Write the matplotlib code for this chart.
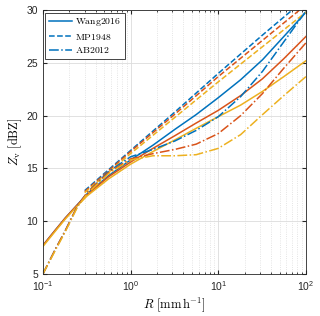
import matplotlib
matplotlib.use('Agg')
import matplotlib.pyplot as plt
from matplotlib.ticker import LogLocator, FixedLocator, FuncFormatter, NullFormatter
import numpy as np

plt.rcParams['mathtext.fontset'] = 'cm'
plt.rcParams['font.family'] = ['Liberation Sans', 'DejaVu Sans']

# rain rate grids [mm/h]
R = [0.1, 0.14, 0.18, 0.25, 0.32, 0.56, 1, 1.8, 3.2, 5.6, 10, 18, 32, 56, 100]
R_mp = [0.3, 1, 3.16, 10, 31.6, 100]

# Wang2016 (solid)
wang_blue = [7.7, 9.2, 10.3, 11.6, 12.6, 14.3, 15.8, 17.2, 18.7, 20.1, 21.7, 23.4, 25.3, 27.5, 29.8]
wang_orange = [7.7, 9.2, 10.3, 11.6, 12.5, 14.2, 15.6, 16.9, 18.1, 19.3, 20.5, 21.9, 23.5, 25.4, 27.5]
wang_yellow = [7.6, 9.1, 10.2, 11.5, 12.4, 14.0, 15.4, 16.6, 17.7, 18.8, 19.9, 21.0, 22.3, 23.7, 25.2]

# MP1948 (dashed)
mp_blue = [12.9, 16.7, 20.3, 24.0, 27.6, 31.1]
mp_orange = [12.8, 16.6, 20.1, 23.7, 27.1, 30.5]
mp_yellow = [12.7, 16.4, 19.8, 23.2, 26.5, 29.8]

# AB2012 (dash-dot)
ab_blue = [5.0, 7.4, 9.1, 11.5, 12.7, 14.7, 16.1, 16.8, 17.6, 18.6, 19.9, 21.8, 24.2, 27.0, 29.9]
ab_orange = [5.0, 7.4, 9.1, 11.5, 12.7, 14.6, 15.9, 16.4, 16.8, 17.3, 18.3, 20.0, 22.1, 24.5, 26.9]
ab_yellow = [5.0, 7.3, 9.0, 11.4, 12.6, 14.5, 15.8, 16.2, 16.2, 16.3, 16.9, 18.2, 20.1, 21.9, 23.7]

colors = ['#0072BD', '#D95319', '#EDB120']
lw = 1.1

fig = plt.figure(figsize=(3.2, 3.16), dpi=100)
ax = fig.add_axes([0.134, 0.133, 0.822, 0.835])

for ys, c in zip([wang_blue, wang_orange, wang_yellow], colors):
    ax.plot(R, ys, '-', color=c, lw=lw)
for ys, c in zip([mp_blue, mp_orange, mp_yellow], colors):
    ax.plot(R_mp, ys, '--', color=c, lw=lw)
for ys, c in zip([ab_blue, ab_orange, ab_yellow], colors):
    ax.plot(R, ys, '-.', color=c, lw=lw)

ax.set_xscale('log')
ax.set_xlim(0.1, 100)
ax.set_ylim(5, 30)
ax.yaxis.set_major_locator(FixedLocator([5, 10, 15, 20, 25, 30]))
ax.xaxis.set_major_locator(LogLocator(base=10, numticks=10))
ax.xaxis.set_minor_locator(LogLocator(base=10, subs=np.arange(2, 10), numticks=10))
ax.xaxis.set_minor_formatter(NullFormatter())
ax.xaxis.set_major_formatter(FuncFormatter(
    lambda v, p: r'$\mathregular{10^{%d}}$' % int(round(np.log10(v)))))

ax.grid(True, which='major', color='#dcdcdc', lw=0.6)
ax.grid(True, which='minor', axis='x', color='#dcdcdc', lw=0.6, ls=':')
ax.set_axisbelow(True)

ax.tick_params(which='both', direction='in', top=True, right=True,
               colors='#262626', labelsize=7.5)
ax.tick_params(which='major', length=3)
ax.tick_params(which='minor', length=1.5)
for s in ax.spines.values():
    s.set_color('#262626')
    s.set_linewidth(0.6)

ax.set_xlabel(r'$R\ [\mathrm{mm\,h^{-1}}]$', fontsize=9, labelpad=2)
ax.set_ylabel(r'$Z_\mathrm{v}\ [\mathrm{dBZ}]$', fontsize=9, labelpad=2)

handles = [plt.Line2D([], [], color=colors[0], lw=lw, ls=s) for s in ['-', '--', '-.']]
leg = ax.legend(handles, [r'$\mathrm{Wang2016}$', r'$\mathrm{MP1948}$', r'$\mathrm{AB2012}$'],
                loc='upper left', fontsize=7, fancybox=False, framealpha=1,
                edgecolor='#262626', borderaxespad=0.25, handlelength=2.3,
                handletextpad=0.4, labelspacing=0.35, borderpad=0.4)
leg.get_frame().set_linewidth(0.6)

fig.savefig('out.png', dpi=100)
